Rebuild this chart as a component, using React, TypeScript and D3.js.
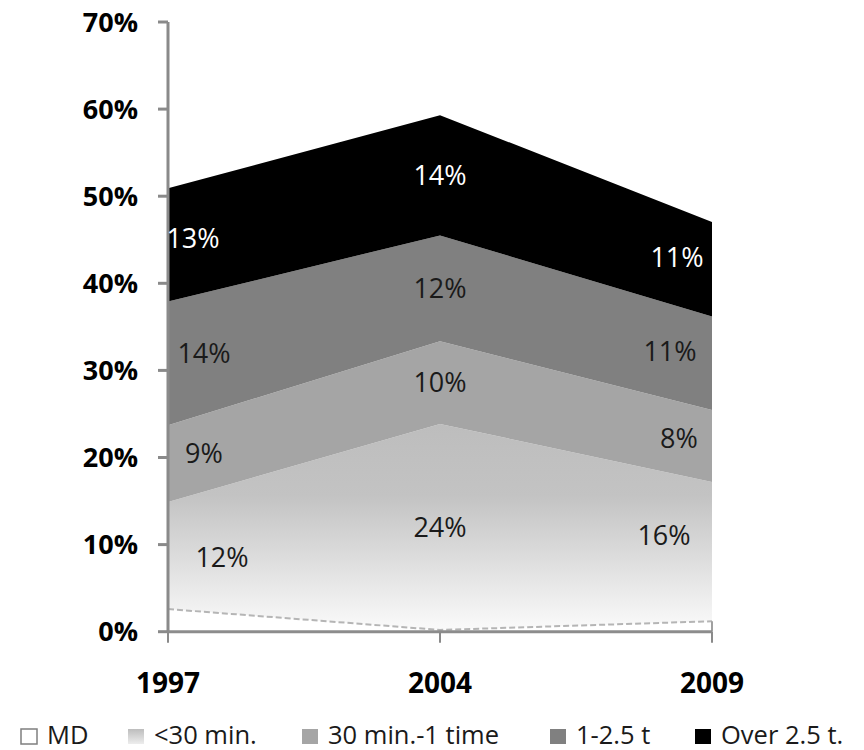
import React from "react";
import * as d3 from "d3";

const YEARS = ["1997", "2004", "2009"];
const SERIES = ["MD", "<30 min.", "30 min.-1 time", "1-2.5 t", "Over 2.5 t."];
const MD = [2.6, 0.2, 1.2];
const LT30 = [12.3, 23.65, 16.0];
const MIN30_1 = [8.8, 9.5, 8.25];
const T1_25 = [14.2, 12.15, 10.75];
const OVER25 = [13.0, 13.8, 10.85];
const Y_TICKS = [0, 10, 20, 30, 40, 50, 60, 70];

// layout / style constants
const W = 864;
const H = 750;
const X0 = 168;
const X1 = 712;
const Y0 = 631.7;
const Y70 = 22;
const FILLS = ["#ffffff", "url(#gradLt30)", "#a5a5a5", "#808080", "#000000"];
const LABEL_COLORS = ["#000", "#1a1a1a", "#1a1a1a", "#1a1a1a", "#ffffff"];
// label x offsets from each year position, per series (index by series)
const LABEL_DX_FIRST = [0, 54, 36, 36, 25];
const LABEL_DX_LAST = [0, -48, -33, -42, -35];
const LABEL_DY_LT30 = [7, 0, -12];
const LEGEND_X = [21, 128, 302, 550, 695];

export default function App() {
  const seriesValues = [MD, LT30, MIN30_1, T1_25, OVER25];
  const rows = YEARS.map((yr, i) => {
    const r: any = { year: yr };
    SERIES.forEach((s, k) => (r[s] = seriesValues[k][i]));
    return r;
  });
  const stacked = d3.stack<any>().keys(SERIES)(rows);

  const x = d3.scalePoint<string>().domain(YEARS).range([X0, X1]);
  const y = d3.scaleLinear().domain([0, 70]).range([Y0, Y70]);

  const area = d3
    .area<any>()
    .x((d) => x(d.data.year) as number)
    .y0((d) => y(d[0]))
    .y1((d) => y(d[1]));
  const topLine = d3
    .line<any>()
    .x((d) => x(d.data.year) as number)
    .y((d) => y(d[1]));

  const bandMid = (layer: any, px: number) => {
    const xs = YEARS.map((yr) => x(yr) as number);
    let j = 0;
    while (j < xs.length - 2 && px > xs[j + 1]) j++;
    const t = (px - xs[j]) / (xs[j + 1] - xs[j]);
    const lo = layer[j][0] + (layer[j + 1][0] - layer[j][0]) * t;
    const hi = layer[j][1] + (layer[j + 1][1] - layer[j][1]) * t;
    return (lo + hi) / 2;
  };

  const labels: any[] = [];
  stacked.forEach((layer, k) => {
    if (k === 0) return;
    YEARS.forEach((yr, i) => {
      let px = x(yr) as number;
      if (i === 0) px += LABEL_DX_FIRST[k];
      if (i === YEARS.length - 1) px += LABEL_DX_LAST[k];
      const v = seriesValues[k][i];
      labels.push({
        key: `${k}-${i}`,
        x: px,
        y: y(bandMid(layer, px)) + (k === 1 ? LABEL_DY_LT30[i] : 0),
        text: `${Math.round(v)}%`,
        color: LABEL_COLORS[k],
      });
    });
  });

  const legendFont = "'Open Sans', 'DejaVu Sans', sans-serif";

  return (
    <svg
      width={W}
      height={H}
      style={{ position: "absolute", left: 0, top: 0, background: "#fff" }}
    >
      <defs>
        <linearGradient
          id="gradLt30"
          gradientUnits="userSpaceOnUse"
          x1="0"
          x2="0"
          y1={y(24)}
          y2={y(0)}
        >
          <stop offset="0" stopColor="#bdbdbd" />
          <stop offset="0.35" stopColor="#c3c3c3" />
          <stop offset="1" stopColor="#fbfbfb" />
        </linearGradient>
        <linearGradient id="gradLegend" x1="0" x2="0" y1="0" y2="1">
          <stop offset="0" stopColor="#bdbdbd" />
          <stop offset="1" stopColor="#ededed" />
        </linearGradient>
      </defs>

      {stacked.map((layer, k) => (
        <path key={SERIES[k]} d={area(layer) as string} fill={FILLS[k]} />
      ))}
      <path
        d={topLine(stacked[0]) as string}
        fill="none"
        stroke="#b5b5b5"
        strokeWidth={2}
        strokeDasharray="6,3"
      />
      <line
        x1={X1}
        x2={X1}
        y1={y(stacked[0][2][1])}
        y2={Y0}
        stroke="#a0a0a0"
        strokeWidth={2}
      />

      <line x1={X0} x2={X0} y1={Y70} y2={Y0 + 1} stroke="#8a8a8a" strokeWidth={3} />
      {Y_TICKS.map((t) => (
        <g key={t}>
          <line x1={X0 - 10} x2={X0} y1={y(t)} y2={y(t)} stroke="#8a8a8a" strokeWidth={3} />
          <text
            x={138}
            y={y(t)}
            dy="0.36em"
            textAnchor="end"
            fontFamily="'Open Sans', sans-serif"
            fontWeight={700}
            fontSize={27}
            fill="#000"
          >
            {t}%
          </text>
        </g>
      ))}
      <line x1={X0} x2={X1} y1={Y0} y2={Y0} stroke="#8c8c8c" strokeWidth={3} />
      {YEARS.map((yr) => (
        <g key={yr}>
          <line
            x1={x(yr) as number}
            x2={x(yr) as number}
            y1={Y0}
            y2={Y0 + 11}
            stroke="#8a8a8a"
            strokeWidth={2}
          />
          <text
            x={x(yr) as number}
            y={683}
            dy="0.36em"
            textAnchor="middle"
            fontFamily="'Open Sans', sans-serif"
            fontWeight={700}
            fontSize={28}
            fill="#000"
          >
            {yr}
          </text>
        </g>
      ))}

      {labels.map((l) => (
        <text
          key={l.key}
          x={l.x}
          y={l.y}
          dy="0.36em"
          textAnchor="middle"
          fontFamily="'Open Sans', sans-serif"
          fontSize={27}
          fill={l.color}
        >
          {l.text}
        </text>
      ))}

      {SERIES.map((s, k) => (
        <g key={s}>
          <rect
            x={LEGEND_X[k]}
            y={729}
            width={16}
            height={15}
            fill={k === 1 ? "url(#gradLegend)" : FILLS[k]}
            stroke={k === 0 ? "#7f7f7f" : "none"}
            strokeWidth={1.5}
          />
          <text
            x={LEGEND_X[k] + 26}
            y={744}
            fontFamily={legendFont}
            fontSize={25.5}
            fill="#1a1a1a"
          >
            {s}
          </text>
        </g>
      ))}
    </svg>
  );
}
